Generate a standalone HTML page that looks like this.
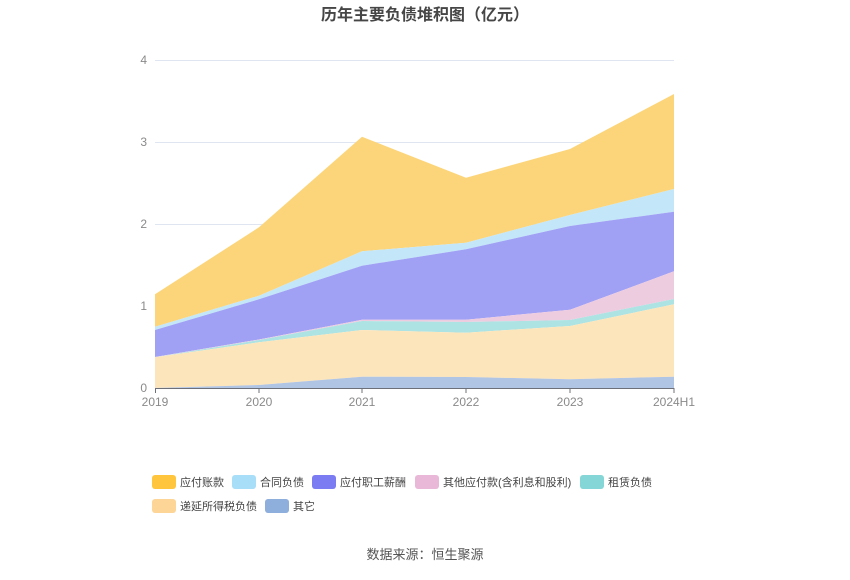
<!DOCTYPE html>
<html><head><meta charset="utf-8"><style>
body{margin:0;background:#fff;width:850px;height:575px;overflow:hidden;font-family:"Liberation Sans","Noto Sans CJK SC",sans-serif;}
</style></head><body>
<svg width="850" height="575" xmlns="http://www.w3.org/2000/svg" font-family="Liberation Sans, Noto Sans CJK SC, sans-serif">
<text x="425" y="20" text-anchor="middle" font-size="16" font-weight="bold" fill="#464646">历年主要负债堆积图（亿元）</text>
<g stroke="#e0e6f1" stroke-width="1">
<line x1="155" y1="60.5" x2="674" y2="60.5"/><line x1="155" y1="142.5" x2="674" y2="142.5"/><line x1="155" y1="224.5" x2="674" y2="224.5"/><line x1="155" y1="306.5" x2="674" y2="306.5"/>
</g>
<g font-size="12" fill="#8a8a8a" text-anchor="end">
<text x="147" y="392">0</text><text x="147" y="310">1</text><text x="147" y="228">2</text><text x="147" y="146">3</text><text x="147" y="64">4</text>
</g>
<polygon fill="#fcd57a" points="155,294.3 259,227.3 362,136.7 466,177.7 570,149 674,94 674,189 570,215 466,242.7 362,251.3 259,295.7 155,326.7"/>
<polygon fill="#c3e6f8" points="155,326.7 259,295.7 362,251.3 466,242.7 570,215 674,189 674,211.7 570,226 466,249.3 362,265.7 259,299.3 155,330"/>
<polygon fill="#a0a0f5" points="155,330 259,299.3 362,265.7 466,249.3 570,226 674,211.7 674,271.3 570,309.7 466,319.7 362,319.7 259,339.5 155,357"/>
<polygon fill="#eecce0" points="155,357 259,339.5 362,319.7 466,319.7 570,309.7 674,271.3 674,299 570,320 466,322 362,321 259,340 155,357.3"/>
<polygon fill="#ade3e3" points="155,357.3 259,340 362,321 466,322 570,320 674,299 674,304.3 570,326 466,332.7 362,330 259,342.3 155,357.3"/>
<polygon fill="#fde5bb" points="155,357.3 259,342.3 362,330 466,332.7 570,326 674,304.3 674,376.7 570,379.3 466,377 362,376.7 259,385 155,388"/>
<polygon fill="#b0c4e4" points="155,388 259,385 362,376.7 466,377 570,379.3 674,376.7 674,388 155,388"/>
<line x1="155" y1="388.5" x2="674" y2="388.5" stroke="#6e7079"/>
<g stroke="#6e7079"><line x1="155.5" y1="388" x2="155.5" y2="393"/><line x1="259" y1="388" x2="259" y2="393"/><line x1="362" y1="388" x2="362" y2="393"/><line x1="466" y1="388" x2="466" y2="393"/><line x1="570" y1="388" x2="570" y2="393"/><line x1="674" y1="388" x2="674" y2="393"/></g>
<g font-size="12" fill="#8a8a8a" text-anchor="middle">
<text x="155" y="406">2019</text><text x="259" y="406">2020</text><text x="362" y="406">2021</text><text x="466" y="406">2022</text><text x="570" y="406">2023</text><text x="674" y="406">2024H1</text>
</g>
<g font-size="11" fill="#444">
<rect x="152" y="475" width="24" height="14" rx="3" fill="#ffc53d"/><text x="180" y="486">应付账款</text>
<rect x="232" y="475" width="24" height="14" rx="3" fill="#a8def8"/><text x="260" y="486">合同负债</text>
<rect x="312" y="475" width="24" height="14" rx="3" fill="#7b7cf2"/><text x="340" y="486">应付职工薪酬</text>
<rect x="415" y="475" width="24" height="14" rx="3" fill="#e9b8d8"/><text x="443" y="486">其他应付款(含利息和股利)</text>
<rect x="580" y="475" width="24" height="14" rx="3" fill="#85d6d6"/><text x="608" y="486">租赁负债</text>
<rect x="152" y="499" width="24" height="14" rx="3" fill="#fdd597"/><text x="180" y="510">递延所得税负债</text>
<rect x="265" y="499" width="24" height="14" rx="3" fill="#8eaedc"/><text x="293" y="510">其它</text>
</g>
<text x="425" y="559" text-anchor="middle" font-size="13" fill="#555">数据来源：恒生聚源</text>
</svg>
</body></html>
